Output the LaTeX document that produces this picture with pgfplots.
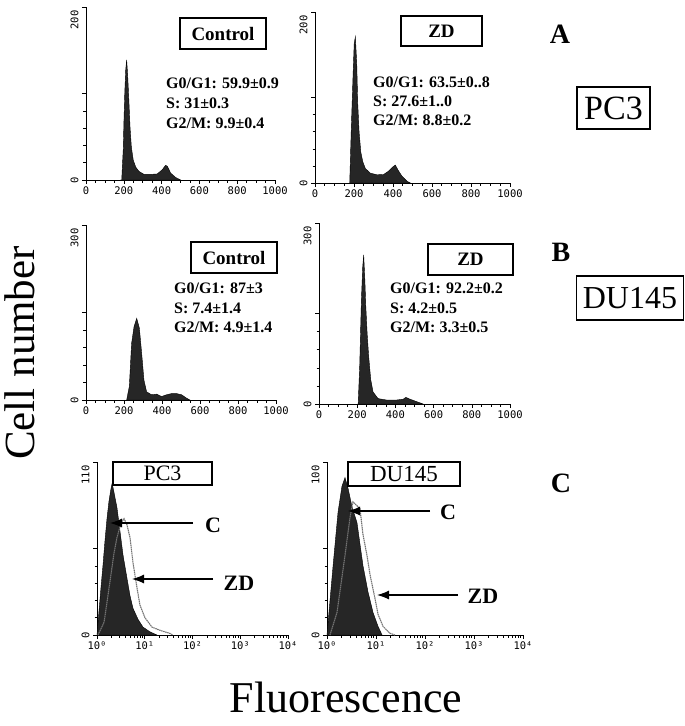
\documentclass[border=0pt]{standalone}
\usepackage{fontspec}
\setmainfont{Liberation Serif}
\newfontfamily\tickfont{DejaVu Sans Mono}
\usepackage{pgfplots}
\pgfplotsset{compat=1.18}
\usetikzlibrary{arrows.meta}

\pgfplotsset{
  flow/.style={
    scale only axis, axis lines=left, axis line style={-, line width=0.8pt},
    enlargelimits=false, ymin=0, clip=false,
    tick align=outside, tick style={black, line width=0.6pt},
    major tick length=4pt, minor tick length=2.5pt,
    minor y tick num=4,
    /pgf/number format/assume math mode=true,
    xticklabel style={font=\tickfont\fontsize{10.5}{10.5}\selectfont, yshift=1pt},
    yticklabel style={font=\tickfont\fontsize{10.5}{10.5}\selectfont, rotate=90, anchor=south},
    extra y tick style={yticklabel style={anchor=south east}, major tick length=4pt},
  },
  lin/.style={flow, xmin=0, xmax=1000, xtick={0,200,400,600,800,1000},
    xticklabels={0,200,400,600,800,1000}, minor x tick num=3},
  logx/.style={flow, xmin=1, xmax=10000, xtick={1,10,100,1000,10000},
    xticklabels={10⁰,10¹,10²,10³,10⁴}},
  hist/.style={fill=black!85, draw=black, line width=0.4pt},
  zd/.style={draw=black!55, line width=1.1pt, dash pattern=on 1.5pt off 0.6pt},
}

\begin{document}
\begin{tikzpicture}
\useasboundingbox (0,0) rectangle (685pt,-726pt);

% A: PC3 cell cycle
\begin{axis}[lin, at={(86pt,-180pt)}, anchor=south west, width=189pt, height=173pt,
  ymax=200, ytick={0,100}, yticklabels={0,{}}, extra y ticks={200}, extra y tick labels={200}]
\addplot[hist] coordinates {(180,0)(189,0)(193,18)(197,35)(201,70)(205,100)(210,127)(215,139)(220,123)(226,96)(233,61)(240,38)(250,23)(263,15)(280,10)(307,6.5)(342,6.5)(377,7)(404,12)(421,17)(430,16)(448,8)(474,3)(501,0)} \closedcycle;
\end{axis}

\begin{axis}[lin, at={(315pt,-183pt)}, anchor=south west, width=195pt, height=171pt,
  ymax=200, ytick={0,100}, yticklabels={0,{}}, extra y ticks={200}, extra y tick labels={200}]
\addplot[hist] coordinates {(178,0)(186,63)(196,132)(201,163)(207,171)(214,140)(219,94)(226,60)(235,36)(245,25)(258,17)(284,11.5)(318,9.6)(352,10)(378,14)(400,19)(412,21)(426,15)(446,8)(472,2)(489,0)} \closedcycle;
\end{axis}

% B: DU145 cell cycle
\begin{axis}[lin, at={(86pt,-400pt)}, anchor=south west, width=190pt, height=175pt,
  ymax=300, ytick={0,150}, yticklabels={0,{}}, extra y ticks={300}, extra y tick labels={300}]
\addplot[hist] coordinates {(214,0)(228,23)(240,97)(253,126)(267,140)(281,123)(293,80)(305,34)(319,14)(345,9)(372,10)(398,6)(424,9)(450,11)(477,11)(503,9)(530,3)(547,0)} \closedcycle;
\end{axis}

\begin{axis}[lin, at={(319pt,-404pt)}, anchor=south west, width=191pt, height=181pt,
  ymax=300, ytick={0,150}, yticklabels={0,{}}, extra y ticks={300}, extra y tick labels={300}]
\addplot[hist] coordinates {(205,0)(213,62)(222,173)(229,228)(234,247)(240,206)(245,162)(252,117)(260,79)(271,40)(283,20)(309,9)(353,6.6)(406,6.6)(441,8)(455,11)(476,8)(502,5)(528,2)(545,0)} \closedcycle;
\end{axis}

% C: fluorescence
\begin{semilogxaxis}[logx, at={(97pt,-635pt)}, anchor=south west, width=191pt, height=173pt,
  ymax=110, ytick={0,55}, yticklabels={0,{}}, extra y ticks={110}, extra y tick labels={110}]
\addplot[hist] coordinates {(1,0)(1.10,15)(1.21,30)(1.34,45)(1.47,60)(1.62,74)(1.78,85)(1.96,93)(2.06,96)(2.16,94)(2.62,81)(3.03,66)(3.5,51)(4.25,36)(4.91,25)(5.67,17)(7.22,10)(9.19,5)(12.9,2)(18,0)} \closedcycle;
\addplot[zd] coordinates {(1.05,0)(1.40,8)(1.47,12)(1.87,34)(2.27,52)(2.62,62)(3.18,71)(3.68,74)(4.25,70)(4.91,62)(5.67,46)(6.88,30)(7.94,19)(10.1,11)(14.2,5)(20.8,3)(33.7,1)(39,0)};
\end{semilogxaxis}

\begin{semilogxaxis}[logx, at={(327pt,-635pt)}, anchor=south west, width=196pt, height=173pt,
  ymax=100, ytick={0,50}, yticklabels={0,{}}, extra y ticks={100}, extra y tick labels={100}]
\addplot[hist] coordinates {(1,0)(1.05,7)(1.33,40)(1.68,71)(2.02,86)(2.33,91)(2.68,85)(3.24,74)(4.09,65)(5.43,40)(6.86,25)(8.7,13)(11,5)(13.3,0)} \closedcycle;
\addplot[zd] coordinates {(1.15,0)(1.6,13)(2.33,46)(2.95,68)(3.39,77)(4.71,73)(5.43,58)(6.55,46)(7.54,35)(9.55,21)(11,12)(13.9,5)(19.3,1)(24.4,0)};
\end{semilogxaxis}

% boxes and stats
\tikzset{bx/.style={draw, line width=1.2pt, inner sep=0pt, fill=white},
  st/.style={anchor=west, inner sep=0pt, font=\bfseries\fontsize{16}{16}\selectfont}}
\node[bx, minimum width=86pt, minimum height=31pt, font=\bfseries\fontsize{19}{19}\selectfont] at (223pt,-33.5pt) {Control};
\node[bx, minimum width=81pt, minimum height=30pt, font=\bfseries\fontsize{19}{19}\selectfont] at (441.5pt,-31pt) {ZD};
\node[bx, minimum width=86pt, minimum height=31pt, font=\bfseries\fontsize{19}{19}\selectfont] at (234pt,-257.5pt) {Control};
\node[bx, minimum width=85pt, minimum height=31pt, font=\bfseries\fontsize{19}{19}\selectfont] at (470.5pt,-259.5pt) {ZD};

\node[st] at (166pt,-83pt) {G0/G1: 59.9±0.9};
\node[st] at (166pt,-103pt) {S: 31±0.3};
\node[st] at (166pt,-123pt) {G2/M: 9.9±0.4};
\node[st] at (373pt,-82pt) {G0/G1: 63.5±0..8};
\node[st] at (373pt,-101pt) {S: 27.6±1..0};
\node[st] at (373pt,-120pt) {G2/M: 8.8±0.2};
\node[st] at (174pt,-288pt) {G0/G1: 87±3};
\node[st] at (174pt,-308pt) {S: 7.4±1.4};
\node[st] at (174pt,-327pt) {G2/M: 4.9±1.4};
\node[st] at (390pt,-288pt) {G0/G1: 92.2±0.2};
\node[st] at (390pt,-308pt) {S: 4.2±0.5};
\node[st] at (390pt,-327pt) {G2/M: 3.3±0.5};

\node[bx, minimum width=99pt, minimum height=23pt, font=\fontsize{22}{22}\selectfont] at (162.5pt,-473.5pt) {PC3};
\node[bx, minimum width=112pt, minimum height=24pt, font=\fontsize{23}{23}\selectfont] at (404pt,-474pt) {DU145};

% arrows in C
\tikzset{ar/.style={line width=1.2pt, -{Latex[length=12pt,width=9pt]}},
  al/.style={font=\bfseries\fontsize{22}{22}\selectfont}}
\draw[ar] (193pt,-523pt) -- (110pt,-523pt);
\node[al] at (213pt,-525pt) {C};
\draw[ar] (213pt,-579pt) -- (132pt,-579pt);
\node[al] at (239pt,-583pt) {ZD};
\draw[ar] (430pt,-511pt) -- (348pt,-511pt);
\node[al] at (448pt,-512pt) {C};
\draw[ar] (458pt,-595pt) -- (377pt,-595pt);
\node[al] at (483pt,-596pt) {ZD};

% panel letters and cell line boxes
\node[font=\bfseries\fontsize{28}{28}\selectfont] at (560pt,-34pt) {A};
\node[font=\bfseries\fontsize{28}{28}\selectfont] at (561pt,-252pt) {B};
\node[font=\bfseries\fontsize{28}{28}\selectfont] at (561pt,-483pt) {C};
\node[draw, line width=1.2pt, minimum width=73pt, minimum height=42pt, inner sep=0pt, font=\fontsize{34}{34}\selectfont] at (613.5pt,-108pt) {PC3};
\node[draw, line width=1.2pt, minimum width=107pt, minimum height=44pt, inner sep=0pt, font=\fontsize{32}{32}\selectfont] at (630pt,-298pt) {DU145};

% axis titles
\node[rotate=90, font=\fontsize{43}{43}\selectfont] at (20pt,-353pt) {Cell number};
\node[anchor=base, inner sep=0pt, font=\fontsize{44}{44}\selectfont] at (346pt,-712pt) {Fluorescence};
\end{tikzpicture}
\end{document}
